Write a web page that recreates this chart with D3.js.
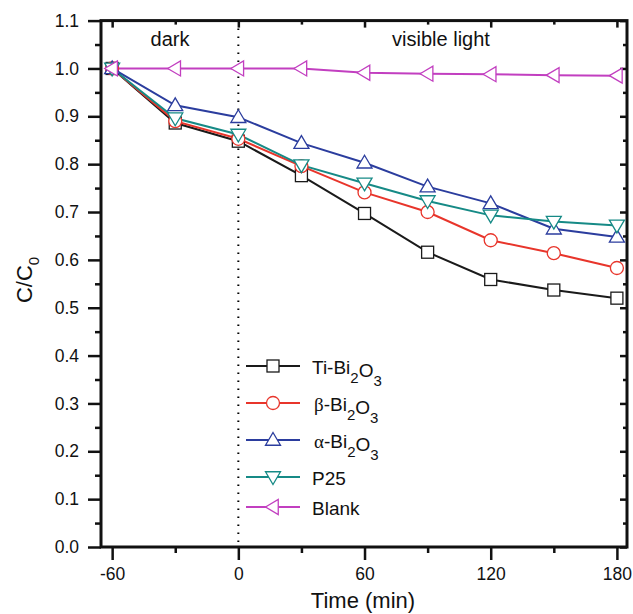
<!DOCTYPE html>
<html>
<head>
<meta charset="utf-8">
<script src="https://cdn.jsdelivr.net/npm/d3@7"></script>
<style>
body { margin: 0; background: #fff; }
text { font-family: "Liberation Sans", Arial, sans-serif; fill: #111; }
</style>
</head>
<body>
<div class="container"></div>
<script>
// Data
const times = [-60, -30, 0, 30, 60, 90, 120, 150, 180];
const tiBi2O3 = [1.0, 0.886, 0.848, 0.776, 0.697, 0.616, 0.559, 0.537, 0.520];
const betaBi2O3 = [1.0, 0.890, 0.853, 0.796, 0.741, 0.700, 0.641, 0.614, 0.583];
const alphaBi2O3 = [1.0, 0.923, 0.898, 0.844, 0.803, 0.753, 0.718, 0.665, 0.648];
const p25 = [1.0, 0.896, 0.862, 0.798, 0.760, 0.723, 0.693, 0.680, 0.672];
const blank = [1.0, 1.0, 1.0, 1.0, 0.991, 0.989, 0.988, 0.986, 0.985];
const xTicks = [-60, 0, 60, 120, 180];
const yTicks = [0, 0.1, 0.2, 0.3, 0.4, 0.5, 0.6, 0.7, 0.8, 0.9, 1.0, 1.1];

const series = [
  {greek: "", name: "Ti-Bi", sub: true, values: tiBi2O3, color: "#1a1a1a", marker: "square"},
  {greek: "\u03b2", name: "-Bi", sub: true, values: betaBi2O3, color: "#e8352b", marker: "circle"},
  {greek: "\u03b1", name: "-Bi", sub: true, values: alphaBi2O3, color: "#2b3d9e", marker: "up"},
  {greek: "", name: "P25", sub: false, values: p25, color: "#168a86", marker: "down"},
  {greek: "", name: "Blank", sub: false, values: blank, color: "#c23fc0", marker: "left"}
];

const w = 633, h = 614;
const pLeft = 101, pRight = 627, pTop = 20.6, pBottom = 547;

const xScale = d3.scaleLinear().domain([-65.3, 184.8]).range([pLeft, pRight]);
const yScale = d3.scaleLinear().domain([0, 1.1]).range([pBottom, pTop]);

const svg = d3.select(".container").append("svg")
  .attr("width", w).attr("height", h);

// dotted line at t = 0
svg.append("line")
  .attr("x1", xScale(0)).attr("x2", xScale(0))
  .attr("y1", pTop).attr("y2", pBottom)
  .attr("stroke", "#000").attr("stroke-width", 2)
  .attr("stroke-dasharray", "1.5,6.5");

// axes
const minorX = [-30, 30, 90, 150];
const minorY = [0.05, 0.15, 0.25, 0.35, 0.45, 0.55, 0.65, 0.75, 0.85, 0.95, 1.05];

svg.append("g").attr("transform", `translate(0,${pBottom})`)
  .call(d3.axisBottom(xScale).tickValues(xTicks).tickSize(13).tickPadding(8).tickFormat(d => String(d)));
svg.append("g").attr("transform", `translate(0,${pBottom})`)
  .call(d3.axisBottom(xScale).tickValues(minorX).tickSize(6).tickFormat(""));

svg.append("g").attr("transform", `translate(${pLeft},0)`)
  .call(d3.axisLeft(yScale).tickValues(yTicks).tickSize(13).tickPadding(9).tickFormat(d3.format(".1f")));
svg.append("g").attr("transform", `translate(${pLeft},0)`)
  .call(d3.axisLeft(yScale).tickValues(minorY).tickSize(6).tickFormat(""));

// top and right axes (ticks inward)
svg.append("g").attr("transform", `translate(0,${pTop})`)
  .call(d3.axisBottom(xScale).tickValues(xTicks).tickSize(7).tickFormat(""));
svg.append("g").attr("transform", `translate(0,${pTop})`)
  .call(d3.axisBottom(xScale).tickValues(minorX).tickSize(4).tickFormat(""));
svg.append("g").attr("transform", `translate(${pRight},0)`)
  .call(d3.axisLeft(yScale).tickValues(yTicks).tickSize(7).tickFormat(""));
svg.append("g").attr("transform", `translate(${pRight},0)`)
  .call(d3.axisLeft(yScale).tickValues(minorY).tickSize(4).tickFormat(""));

svg.selectAll(".domain").remove();
svg.selectAll(".tick line").attr("stroke", "#111").attr("stroke-width", 2.5);
svg.selectAll(".tick text").style("font-size", "17.5px").attr("fill", "#111");

svg.append("rect")
  .attr("x", pLeft).attr("y", pTop)
  .attr("width", pRight - pLeft).attr("height", pBottom - pTop)
  .attr("fill", "none").attr("stroke", "#111").attr("stroke-width", 3);

// labels
svg.append("text").attr("x", 363).attr("y", 608)
  .attr("text-anchor", "middle").style("font-size", "22px").text("Time (min)");
const yl = svg.append("text")
  .attr("transform", `translate(32,280) rotate(-90)`)
  .attr("text-anchor", "middle").style("font-size", "22px");
yl.append("tspan").text("C/C");
yl.append("tspan").attr("dy", 7).style("font-size", "15px").text("0");

svg.append("text").attr("x", 170).attr("y", 46).attr("text-anchor", "middle")
  .style("font-size", "20px").text("dark");
svg.append("text").attr("x", 441).attr("y", 46).attr("text-anchor", "middle")
  .style("font-size", "20px").text("visible light");

// markers
function drawMarker(g, type, color, x, y) {
  const s = 6;
  if (type === "square") {
    g.append("rect").attr("x", x - s).attr("y", y - s).attr("width", 2 * s).attr("height", 2 * s)
      .attr("fill", "#fff").attr("stroke", color).attr("stroke-width", 1.3);
  } else if (type === "circle") {
    g.append("circle").attr("cx", x).attr("cy", y).attr("r", 6.5)
      .attr("fill", "#fff").attr("stroke", color).attr("stroke-width", 1.3);
  } else {
    const r = 7.5;
    let pts;
    if (type === "up") pts = [[x, y - r], [x + r, y + r * 0.7], [x - r, y + r * 0.7]];
    if (type === "down") pts = [[x, y + r], [x + r, y - r * 0.7], [x - r, y - r * 0.7]];
    if (type === "left") pts = [[x - r, y], [x + r * 0.7, y - r], [x + r * 0.7, y + r]];
    g.append("polygon").attr("points", pts.map(p => p.join(",")).join(" "))
      .attr("fill", "#fff").attr("stroke", color).attr("stroke-width", 1.3);
  }
}

const line = d3.line().x((d, i) => xScale(times[i])).y(d => yScale(d));

series.forEach(s => {
  svg.append("path").datum(s.values).attr("d", line)
    .attr("fill", "none").attr("stroke", s.color).attr("stroke-width", 2);
});
series.forEach(s => {
  const g = svg.append("g");
  s.values.forEach((v, i) => drawMarker(g, s.marker, s.color, xScale(times[i]), yScale(v)));
});

// legend
const legY = [366, 403, 440, 477, 507];
series.forEach((s, i) => {
  const g = svg.append("g");
  g.append("line").attr("x1", 246).attr("x2", 300).attr("y1", legY[i]).attr("y2", legY[i])
    .attr("stroke", s.color).attr("stroke-width", 2);
  drawMarker(g, s.marker, s.color, 273, legY[i]);
  const t = g.append("text").attr("x", s.greek ? 314 : 312).attr("y", legY[i] + 8).style("font-size", "19px");
  if (s.greek) t.append("tspan").style("font-family", "'Liberation Serif', serif").text(s.greek);
  if (s.sub) {
    t.append("tspan").text(s.name);
    t.append("tspan").attr("dy", 9).style("font-size", "15px").text("2");
    t.append("tspan").attr("dy", -6).text("O");
    t.append("tspan").attr("dy", 9).style("font-size", "15px").text("3");
  } else {
    t.append("tspan").text(s.name);
  }
});
</script>
</body>
</html>
